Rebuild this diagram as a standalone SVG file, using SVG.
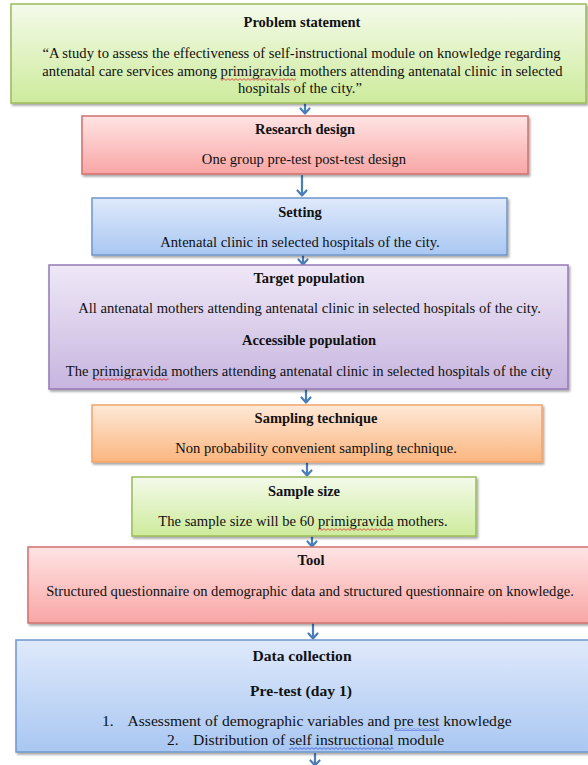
<svg xmlns="http://www.w3.org/2000/svg" width="588" height="765" viewBox="0 0 588 765">
<defs>
<linearGradient id="gGreen" x1="0" y1="0" x2="0" y2="1"><stop offset="0" stop-color="#f4faea"/><stop offset="1" stop-color="#cdeb9c"/></linearGradient>
<linearGradient id="gRed" x1="0" y1="0" x2="0" y2="1"><stop offset="0" stop-color="#ffe4e4"/><stop offset="1" stop-color="#f8a6a5"/></linearGradient>
<linearGradient id="gBlue" x1="0" y1="0" x2="0" y2="1"><stop offset="0" stop-color="#dfe9fb"/><stop offset="1" stop-color="#a9c7f2"/></linearGradient>
<linearGradient id="gPurple" x1="0" y1="0" x2="0" y2="1"><stop offset="0" stop-color="#efe8f7"/><stop offset="1" stop-color="#c7b5df"/></linearGradient>
<linearGradient id="gOrange" x1="0" y1="0" x2="0" y2="1"><stop offset="0" stop-color="#fee9d8"/><stop offset="1" stop-color="#fbb57e"/></linearGradient>
<filter id="sh" x="-5%" y="-10%" width="110%" height="130%"><feDropShadow dx="1.5" dy="2" stdDeviation="1.2" flood-color="#000" flood-opacity="0.35"/></filter>
<pattern id="wavR" width="4" height="3" patternUnits="userSpaceOnUse"><path d="M0 0.6L2 2.4L4 0.6" fill="none" stroke="#e02828" stroke-width="0.8"/></pattern>
<pattern id="wavB" width="4" height="3" patternUnits="userSpaceOnUse"><path d="M0 0.6L2 2.4L4 0.6" fill="none" stroke="#2a4fd0" stroke-width="0.8"/></pattern>
</defs>
<style>
.box{stroke-width:1.5;filter:url(#sh)}
.green{fill:url(#gGreen);stroke:#9bbb59}
.red{fill:url(#gRed);stroke:#d0706e}
.blue{fill:url(#gBlue);stroke:#6f97cb}
.purple{fill:url(#gPurple);stroke:#9479b5}
.orange{fill:url(#gOrange);stroke:#f5a36a}
text{font-family:'Liberation Serif','Times New Roman',serif;font-size:14.6px;fill:#111;text-anchor:middle}
.t{font-weight:bold;font-size:14.5px}
.big{font-size:15.6px}
.st{text-anchor:start}
.arr{stroke:#4a7ebb;stroke-width:2.2;fill:none;stroke-linecap:round;stroke-linejoin:round}
.sqr{fill:url(#wavR)}
.sqb{fill:url(#wavB)}
</style>

<g id="connectors">
<path class="arr" d="M305 104V113M300.5 108.5L305 113.5L309.5 108.5"/>
<path class="arr" d="M302 176V195M297.5 190.5L302 195.5L306.5 190.5"/>
<path class="arr" d="M303 256V264M298.5 259.5L303 264.5L307.5 259.5"/>
<path class="arr" d="M306 390V402M301.5 397.5L306 402.5L310.5 397.5"/>
<path class="arr" d="M307 463V475M302.5 470.5L307 475.5L311.5 470.5"/>
<path class="arr" d="M312 537V546M307.5 541.5L312 546.5L316.5 541.5"/>
<path class="arr" d="M313 624V638M308.5 633.5L313 638.5L317.5 633.5"/>
<path class="arr" d="M315 754V765M310.5 760.5L315 765.5L319.5 760.5"/>
</g>

<g id="problem">
<rect class="box green" x="11" y="4" width="575" height="99"/>
<text class="t" x="302" y="27">Problem statement</text>
<text x="301.5" y="58">“A study to assess the effectiveness of self-instructional module on knowledge regarding</text>
<text x="302.5" y="76">antenatal care services among primigravida mothers attending antenatal clinic in selected</text>
<text x="300" y="93">hospitals of the city.”</text>
<rect class="sqr" x="220.5" y="78" width="75.5" height="3"/>
</g>

<g id="research">
<rect class="box red" x="82" y="116" width="446" height="58"/>
<text class="t" x="305" y="134">Research design</text>
<text x="304" y="164">One group pre-test post-test design</text>
</g>

<g id="setting">
<rect class="box blue" x="92" y="198" width="415" height="57"/>
<text class="t" x="300" y="217">Setting</text>
<text x="300" y="247">Antenatal clinic in selected hospitals of the city.</text>
</g>

<g id="population">
<rect class="box purple" x="49" y="265" width="519" height="124"/>
<text class="t" x="309" y="283">Target population</text>
<text x="309.5" y="313">All antenatal mothers attending antenatal clinic in selected hospitals of the city.</text>
<text class="t" x="309" y="345">Accessible population</text>
<text x="309.2" y="376">The primigravida mothers attending antenatal clinic in selected hospitals of the city</text>
<rect class="sqr" x="93" y="378" width="75.5" height="3"/>
</g>

<g id="sampling">
<rect class="box orange" x="92" y="405" width="450" height="57"/>
<text class="t" x="316" y="423">Sampling technique</text>
<text x="316" y="453">Non probability convenient sampling technique.</text>
</g>

<g id="samplesize">
<rect class="box green" x="132" y="477" width="344" height="59"/>
<text class="t" x="304" y="496">Sample size</text>
<text x="303" y="526">The sample size will be 60 primigravida mothers.</text>
<rect class="sqr" x="318" y="528" width="75.5" height="3"/>
</g>

<g id="tool">
<rect class="box red" x="28" y="547" width="562" height="76"/>
<text class="t" x="311" y="565">Tool</text>
<text x="310" y="596">Structured questionnaire on demographic data and structured questionnaire on knowledge.</text>
</g>

<g id="datacollection">
<rect class="box blue" x="16" y="640" width="574" height="112"/>
<text class="t big" x="302" y="660.5">Data collection</text>
<text class="t big" x="301" y="695.5">Pre-test (day 1)</text>
<text class="big st" x="102" y="726">1.</text>
<text class="big st" x="127.5" y="726">Assessment of demographic variables and pre test knowledge</text>
<text class="big st" x="167" y="745">2.</text>
<text class="big st" x="193" y="745">Distribution of self instructional module</text>
<rect class="sqb" x="394" y="728" width="45.5" height="3"/>
<rect class="sqb" x="289" y="747" width="104.5" height="3"/>
</g>
</svg>
